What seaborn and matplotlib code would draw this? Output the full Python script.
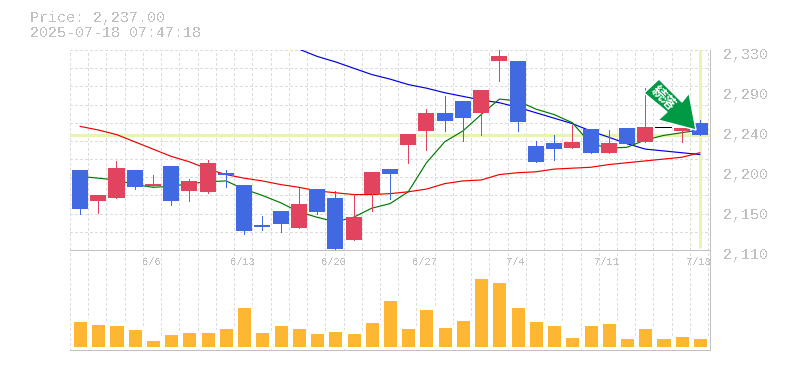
"""
Candle chart with moving averages and volume
"""

import numpy as np
import pandas as pd
import matplotlib.pyplot as plt
from matplotlib.patches import Polygon
from matplotlib.transforms import ScaledTranslation
import seaborn as sns

sns.set_style("white")
plt.rcParams['font.family'] = ['Liberation Mono', 'DejaVu Sans Mono']
plt.rcParams['text.antialiased'] = False
plt.rcParams['lines.antialiased'] = False
plt.rcParams['patch.antialiased'] = False

# top and bottom of each candle body, wicks, and its colour
body_top = [2198, 2170, 2200, 2198, 2183, 2202, 2186, 2206, 2195, 2182, 2138, 2153, 2161, 2177, 2167, 2146, 2196, 2199,
            2238, 2261, 2261, 2274, 2286, 2323, 2318, 2224, 2228, 2229, 2243, 2228, 2244, 2245, 2245, 2244, 2250]
body_bot = [2155, 2164, 2167, 2179, 2180, 2164, 2175, 2174, 2193, 2131, 2135, 2139, 2134, 2152, 2111, 2121, 2172, 2194,
            2226, 2241, 2252, 2255, 2261, 2318, 2251, 2207, 2221, 2222, 2217, 2217, 2227, 2229, 2244, 2241, 2237]
high = [2198, 2170, 2208, 2198, 2193, 2202, 2188, 2209, 2198, 2182, 2147, 2153, 2178, 2177, 2175, 2172, 2196, 2199,
        2238, 2265, 2279, 2274, 2286, 2332, 2318, 2230, 2237, 2248, 2243, 2242, 2244, 2288, 2245, 2244, 2253]
low = [2150, 2151, 2167, 2177, 2180, 2160, 2164, 2173, 2179, 2128, 2132, 2130, 2134, 2150, 2111, 2121, 2153, 2166,
       2206, 2220, 2241, 2230, 2237, 2296, 2241, 2207, 2209, 2222, 2217, 2217, 2227, 2229, 2245, 2229, 2237]
colour = list("brrbrbrrbbbbrbbrrbrrbbrrbbbrbrbrkrb")

ma_short = [2191, 2189, 2187, 2182, 2179, 2180, 2183, 2185, 2186, 2177, 2170, 2162, 2152, 2146, 2141, 2146, 2156, 2161,
            2174, 2206, 2229, 2241, 2259, 2276, 2274, 2265, 2259, 2250, 2227, 2222, 2223, 2231, 2236, 2239, 2242]
ma_mid = [2246, 2242, 2237, 2229, 2221, 2213, 2207, 2199, 2193, 2189, 2186, 2182, 2179, 2175, 2173, 2171, 2171, 2172,
          2174, 2177, 2183, 2186, 2187, 2193, 2195, 2196, 2199, 2200, 2201, 2204, 2206, 2208, 2210, 2212, 2217]
ma_long = [None] * 12 + [2331, 2323, 2317, 2310, 2303, 2298, 2292, 2288, 2283, 2279, 2275, 2272, 2267, 2261, 2255, 2249,
                         2241, 2234, 2227, 2221, 2219, 2217, 2215]

volume = [28, 25, 24, 20, 9, 15, 17, 17, 21, 42, 17, 24, 21, 16, 18, 16, 27, 49,
          21, 40, 22, 29, 71, 67, 42, 28, 24, 12, 24, 26, 11, 21, 11, 13, 11]

price_ticks = [2330, 2286, 2242, 2198, 2154, 2110]
price_labels = ['2,330', '2,290', '2,240', '2,200', '2,150', '2,110']
date_pos = [4, 9, 14, 19, 24, 29, 34]
date_labels = ['6/6', '6/13', '6/20', '6/27', '7/4', '7/11', '7/18']

last_price = 2237
title_lines = ['Price: 2,237.00', '2025-07-18 07:47:18']

RED = '#e2435f'
BLUE = '#4169e1'
GREY = '#c0c0c0'
GRID = '#dcdcdc'
PALE = '#e6f5b0'
W, H = 785, 370
PX = 0.7
days = np.arange(len(volume))
colours = {'r': RED, 'b': BLUE, 'k': 'black'}
XLIM = (-0.55, 34.55)
DASH = (0, (2.8, 2.8))


def box(left, top, right, bottom):
    return [left / W, 1 - bottom / H, (right - left) / W, (bottom - top) / H]


fig = plt.figure(figsize=(W / 100, H / 100), dpi=100)
ax = fig.add_axes(box(70, 50, 710, 250))
ax_vol = fig.add_axes(box(70, 250, 710, 350))
grid_x = np.arange(-0.55, 34.6, 1.0)

# price panel
ax.vlines(grid_x, 2110, 2330, color=GRID, lw=PX, linestyles=DASH, zorder=1)
ax.hlines(np.arange(2110, 2331, 20), XLIM[0], XLIM[1], color=GRID, lw=PX, linestyles=DASH, zorder=1)
ax.axhline(last_price, color=PALE, lw=2.2, antialiased=True, zorder=2)
ax.vlines(34, 2112, 2330, color=PALE, lw=2.2, antialiased=True, zorder=2)

df = pd.DataFrame({'day': days, 'short': ma_short, 'mid': ma_mid, 'long': ma_long})
for col, c in [('long', '#0000e6'), ('short', '#007a00'), ('mid', '#f00000')]:
    sns.lineplot(data=df, x='day', y=col, color=c, linewidth=0.85, antialiased=True, ax=ax, zorder=3)

candle_cols = [colours[c] for c in colour]
ax.vlines(days, low, high, colors=candle_cols, lw=PX, zorder=4)
ax.bar(days, np.array(body_top) - np.array(body_bot), bottom=body_bot, width=0.88,
       color=candle_cols, linewidth=0, zorder=5)

ax.set_xlim(*XLIM)
ax.set_ylim(2110, 2330)
ax.set_xlabel('')
ax.set_ylabel('')
ax.set_xticks([])
ax.yaxis.tick_right()
ax.set_yticks(price_ticks)
ax.set_yticklabels(price_labels, fontsize=10.8, color=GREY)
ax.tick_params(axis='y', length=0, pad=9)
for lab in ax.get_yticklabels():
    lab.set_transform(lab.get_transform() + ScaledTranslation(0, -3 / 100, fig.dpi_scale_trans))
for side in ['top', 'left']:
    ax.spines[side].set_visible(False)
for side in ['right', 'bottom']:
    ax.spines[side].set_color(GREY)
    ax.spines[side].set_linewidth(PX)

# volume panel
ax_vol.vlines(grid_x, -2, 98, color=GRID, lw=PX, linestyles=DASH, zorder=1)
sns.barplot(x=days, y=volume, native_scale=True, color='#ffb733', saturation=1, width=0.88, ax=ax_vol, zorder=2)
ax_vol.set_xlim(*XLIM)
ax_vol.set_ylim(-2, 98)
ax_vol.set_xticks([])
ax_vol.set_yticks([])
ax_vol.set_xlabel('')
ax_vol.set_ylabel('')
for d, lab in zip(date_pos, date_labels):
    ax_vol.text(d - 0.1, 86, lab, ha='center', va='center', fontsize=7.5, color=GREY, clip_on=False, zorder=3)
ax_vol.spines['left'].set_visible(False)
for side in ['top', 'right', 'bottom']:
    ax_vol.spines[side].set_color(GREY)
    ax_vol.spines[side].set_linewidth(PX)

# title
fig.text(30 / W, 1 - 18 / H, title_lines[0], fontsize=10.8, color=GREY, va='center')
fig.text(30 / W, 1 - 33 / H, title_lines[1], fontsize=10.8, color=GREY, va='center')

# green arrow badge
arrow_px = [(659, 79), (644, 93), (667, 112), (658, 120), (696, 130), (689, 93), (682, 102)]
arrow_xy = [(x / W, 1 - y / H) for x, y in arrow_px]
fig.add_artist(Polygon(arrow_xy, closed=True, transform=fig.transFigure, facecolor='#009944',
                       edgecolor='white', linewidth=1, antialiased=True, zorder=10))
t = fig.text(663 / W, 1 - 98 / H, '続落', fontsize=10, color='white', fontweight='bold', rotation=-45,
             ha='center', va='center', family=['Noto Sans CJK JP', 'DejaVu Sans'], zorder=11, rotation_mode='anchor')
t.set_antialiased(True)

fig.savefig('out.png', dpi=100)
